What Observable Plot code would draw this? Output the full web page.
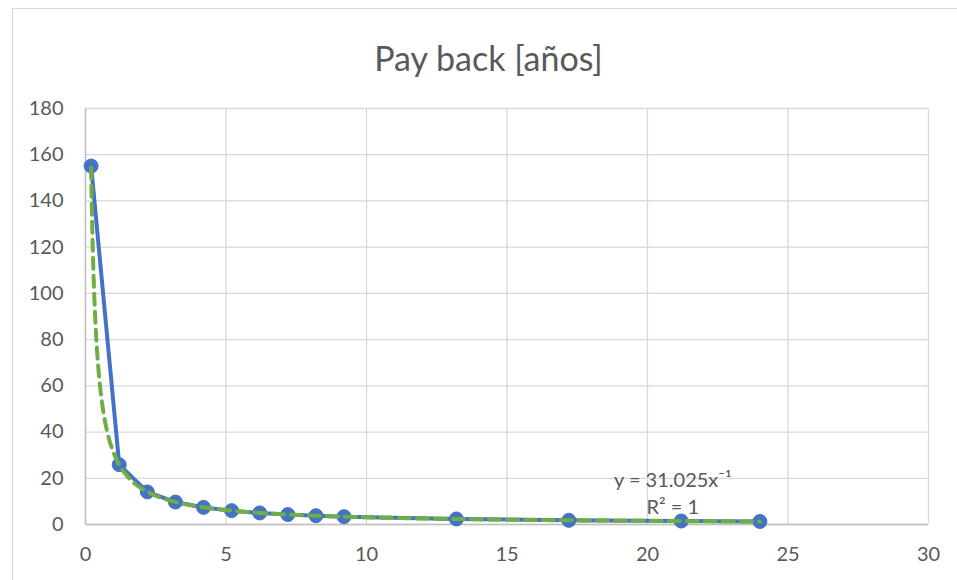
<!DOCTYPE html>
<html><head><meta charset="utf-8">
<script src="https://cdn.jsdelivr.net/npm/d3@7"></script>
<script src="https://cdn.jsdelivr.net/npm/@observablehq/plot@0.6"></script>
<style>
body{margin:0;background:#fff;font-family:Lato,"Open Sans",sans-serif;}
#wrap{position:relative;width:957px;height:580px;overflow:hidden;}
#frame{position:absolute;left:12px;top:8px;width:980px;height:600px;border:1px solid #d9d9d9;box-sizing:border-box;}
#title{position:absolute;left:10px;width:957px;top:41px;line-height:1;text-align:center;font-size:34px;color:#595959;}
#chart{position:absolute;left:0;top:0;}
</style></head>
<body><div id="wrap"><div id="frame"></div><div id="title">Pay back [años]</div><div id="chart"></div></div>
<script>
const xs = [0.2, 1.2, 2.2, 3.2, 4.2, 5.2, 6.2, 7.2, 8.2, 9.2, 13.2, 17.2, 21.2, 24];
const ys = [155.1, 25.9, 14.1, 9.7, 7.4, 6.0, 5.0, 4.3, 3.8, 3.4, 2.4, 1.8, 1.5, 1.3];
const xTicks = [0, 5, 10, 15, 20, 25, 30];
const yTicks = [0, 20, 40, 60, 80, 100, 120, 140, 160, 180];
const eqLines = ["y = 31.025x⁻¹", "R² = 1"];

const data = xs.map((x, i) => ({x, y: ys[i]}));

// power trendline fitted from the data (log-log least squares), like the spreadsheet's trendline
const lx = xs.map(Math.log), ly = ys.map(Math.log);
const mx = d3.mean(lx), my = d3.mean(ly);
const b = d3.sum(lx.map((v, i) => (v - mx) * (ly[i] - my))) / d3.sum(lx.map(v => (v - mx) ** 2));
const a = Math.exp(my - b * mx);
const x0 = d3.min(xs), x1 = d3.max(xs);
const trend = d3.range(0, 401).map(i => {
  const t = i / 400;
  const x = Math.exp(Math.log(x0) + t * (Math.log(x1) - Math.log(x0)));
  return {x, y: a * Math.pow(x, b)};
});

const eq = eqLines.map((t, i) => ({t, x: 20.9, y: 18.8 - i * 11.3}));

const chart = Plot.plot({
  width: 957, height: 580,
  marginLeft: 85, marginRight: 29, marginTop: 108, marginBottom: 56,
  style: {fontFamily: "Lato, 'Open Sans', sans-serif", fontSize: "20px", color: "#595959", background: "transparent"},
  x: {domain: [0, 30], label: null},
  y: {domain: [0, 180], label: null},
  marks: [
    Plot.gridX(xTicks, {stroke: "#d9d9d9", strokeOpacity: 1, strokeWidth: 1.3}),
    Plot.gridY(yTicks, {stroke: "#d9d9d9", strokeOpacity: 1, strokeWidth: 1.3}),
    Plot.ruleY([0], {stroke: "#bfbfbf", strokeWidth: 1.5}),
    Plot.ruleX([0], {stroke: "#bfbfbf", strokeWidth: 1.5}),
    Plot.axisX(xTicks, {tickSize: 0, tickPadding: 22, fontSize: 20, fill: "#595959"}),
    Plot.axisY(yTicks, {tickSize: 0, tickPadding: 22, fontSize: 20, fill: "#595959"}),
    Plot.line(data, {x: "x", y: "y", stroke: "#4472c4", strokeWidth: 4}),
    Plot.dot(data, {x: "x", y: "y", r: 7, fill: "#4472c4", stroke: "#4472c4", strokeWidth: 1}),
    Plot.line(trend, {x: "x", y: "y", stroke: "#70ad47", strokeWidth: 4, strokeDasharray: "11,7"}),
    Plot.text(eq, {x: "x", y: "y", text: "t", fontSize: 20, fill: "#595959"})
  ]
});
document.getElementById("chart").appendChild(chart);
</script></body></html>
